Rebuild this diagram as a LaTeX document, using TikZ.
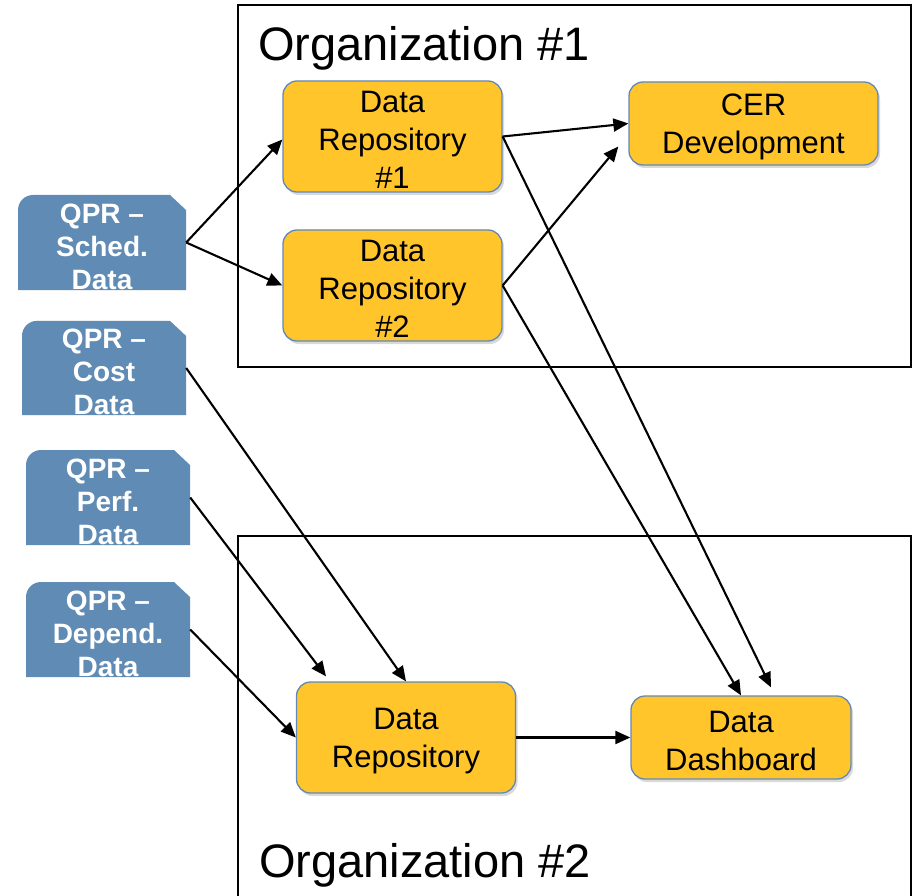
\documentclass[tikz,border=0pt]{standalone}
\usepackage{fontspec}
\setmainfont{Liberation Sans}
\usepackage{tikz}
\usepackage{xcolor}
\usetikzlibrary{arrows.meta,shadows}
\definecolor{qprblue}{RGB}{95,139,180}
\definecolor{repogold}{RGB}{255,197,42}
\definecolor{repoedge}{RGB}{98,136,182}
\newcommand{\toprow}{\rule{0pt}{28pt}}

\begin{document}
\begin{tikzpicture}[x=1pt,y=-1pt,
  repo/.style={draw=repoedge,line width=1.3pt,fill=repogold,rounded corners=14pt,
    align=center,inner sep=0pt,font=\fontsize{31}{38}\selectfont,
    drop shadow={opacity=0.3,shadow xshift=2pt,shadow yshift=-3pt}},
  qpr/.style={minimum width=164pt,minimum height=95pt,inner sep=0pt,align=center,
    text=white,font=\fontsize{28}{33}\selectfont\bfseries,
    path picture={\fill[qprblue] (path picture bounding box.south west)
      -- ([yshift=-15pt]path picture bounding box.north west)
      arc[start angle=180,end angle=90,radius=15pt]
      -- ([xshift=-16pt]path picture bounding box.north east)
      -- ([yshift=-15pt]path picture bounding box.north east)
      -- (path picture bounding box.south east) -- cycle;}},
  link/.style={line width=2.1pt,-{Triangle[length=15pt,width=13pt]}},
  orgbox/.style={line width=2pt},
  orgtitle/.style={anchor=base west,inner sep=0pt,font=\fontsize{47}{56}\selectfont}]
\useasboundingbox (0,0) rectangle (913,896);
\clip (0,0) rectangle (913,896);
\draw[orgbox] (238,5) rectangle (911,367);
\draw[orgbox] (238,536) rectangle (911,910);
\node[orgtitle] (org1) at (258,61) {Organization \#1};
\node[orgtitle] (org2) at (259,877) {Organization \#2};
\node[qpr,minimum width=168pt] (sched) at (102,242.5) {\toprow QPR \textendash\\Sched.\\Data};
\node[qpr,minimum height=94pt] (cost) at (104,368) {\toprow QPR \textendash\\Cost\\Data};
\node[qpr] (perf) at (108,497.5) {\toprow QPR \textendash\\Perf.\\Data};
\node[qpr] (depend) at (108,629.5) {\toprow QPR \textendash\\Depend.\\Data};
\node[repo,minimum width=219pt,minimum height=111pt] (repoA) at (392.5,136.5) {\toprow Data\\Repository\\\#1};
\node[repo,minimum width=219pt,minimum height=111pt] (repoB) at (392.5,285.5) {\toprow Data\\Repository\\\#2};
\node[repo,minimum width=249pt,minimum height=83pt] (cer) at (753.5,123.5) {\toprow CER\\Development};
\node[repo,minimum width=219pt,minimum height=111pt] (repoC) at (406,737.5) {\toprow Data\\Repository};
\node[repo,minimum width=220pt,minimum height=83pt] (dash) at (741,737.5) {\toprow Data\\Dashboard};
\draw[link] (sched.east) -- ([yshift=-3pt]repoA.west);
\draw[link] (sched.east) -- (repoB.west);
\draw[link] (repoA.east) -- (cer.west);
\draw[link] (repoB.east) -- ([xshift=-10pt,yshift=-23pt]cer.west);
\draw[link] (repoA.east) -- ([xshift=30pt,yshift=8pt]dash.north);
\draw[link] (repoB.east) -- (dash.north);
\draw[link] (cost.east) -- (repoC.north);
\draw[link] (perf.east) -- ([xshift=-80pt,yshift=5pt]repoC.north);
\draw[link] (depend.east) -- (repoC.west);
\draw[link] (repoC.east) -- (dash.west);
\end{tikzpicture}
\end{document}
